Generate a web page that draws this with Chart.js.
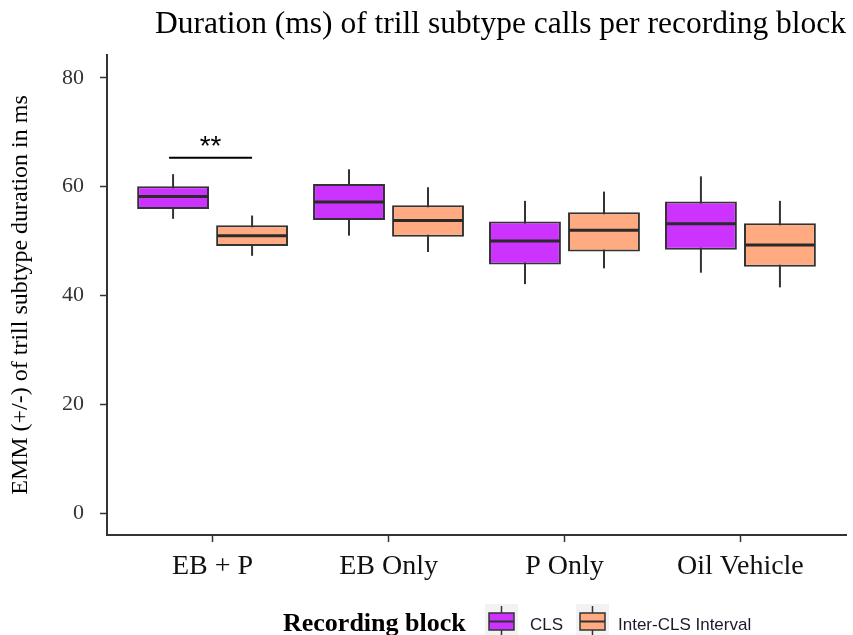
<!DOCTYPE html>
<html>
<head>
<meta charset="utf-8">
<script src="https://cdn.jsdelivr.net/npm/chart.js@4.4.1/dist/chart.umd.min.js"></script>
<style>
  html, body { margin: 0; padding: 0; background: #ffffff; }
  #wrap { width: 853px; height: 635px; }
</style>
</head>
<body>
<div id="wrap"><canvas id="c" width="853" height="635"></canvas></div>
<script>
// Recording blocks on the x axis
const categories = ['EB + P', 'EB Only', 'P Only', 'Oil Vehicle'];

// CLS series: whisker ends, quartiles and medians (ms)
const clsLow    = [54.1, 51.0, 42.1, 44.2];
const clsQ1     = [55.9, 53.9, 45.7, 48.4];
const clsMedian = [58.2, 57.2, 50.0, 53.2];
const clsQ3     = [60.1, 60.5, 53.6, 57.3];
const clsHigh   = [62.3, 63.2, 57.4, 61.9];

// Inter-CLS Interval series
const intLow    = [47.3, 48.0, 45.0, 41.5];
const intQ1     = [49.1, 50.8, 48.1, 45.3];
const intMedian = [51.0, 53.8, 52.0, 49.3];
const intQ3     = [52.9, 56.6, 55.3, 53.3];
const intHigh   = [54.7, 59.9, 59.1, 57.4];

// Y axis tick values
const yTicks = [0, 20, 40, 60, 80];

// Significance bracket over the first block
const sigLevel = 65.3;
const sigLabel = '**';

const seriesNames = ['CLS', 'Inter-CLS Interval'];
const fillColors = ['#cc33ff', '#ffaa80'];
const edgeColor = '#333333';

function boxData(lo, q1, med, q3, hi) {
  return categories.map((c, i) => ({ x: i, y: [q1[i], q3[i]], low: lo[i], median: med[i], high: hi[i] }));
}

// Whiskers behind the boxes, medians and the bracket on top
const boxplotParts = {
  id: 'boxplotParts',
  beforeDatasetsDraw(chart) {
    const ctx = chart.ctx, ys = chart.scales.y;
    ctx.save();
    ctx.strokeStyle = edgeColor;
    ctx.lineWidth = 2;
    chart.data.datasets.forEach((ds, di) => {
      const meta = chart.getDatasetMeta(di);
      meta.data.forEach((el, i) => {
        const d = ds.data[i];
        ctx.beginPath();
        ctx.moveTo(el.x, ys.getPixelForValue(d.low));
        ctx.lineTo(el.x, ys.getPixelForValue(d.high));
        ctx.stroke();
      });
    });
    ctx.restore();
  },
  afterDatasetsDraw(chart) {
    const ctx = chart.ctx, ys = chart.scales.y;
    ctx.save();
    ctx.strokeStyle = '#2a2a2a';
    ctx.lineWidth = 3;
    chart.data.datasets.forEach((ds, di) => {
      const meta = chart.getDatasetMeta(di);
      meta.data.forEach((el, i) => {
        const y = ys.getPixelForValue(ds.data[i].median);
        ctx.beginPath();
        ctx.moveTo(el.x - el.width / 2 + 1, y);
        ctx.lineTo(el.x + el.width / 2 - 1, y);
        ctx.stroke();
      });
    });
    // bracket between the two boxes of the first block
    const a = chart.getDatasetMeta(0).data[0], b = chart.getDatasetMeta(1).data[0];
    const yb = ys.getPixelForValue(sigLevel);
    ctx.strokeStyle = '#000000';
    ctx.lineWidth = 2;
    ctx.beginPath();
    ctx.moveTo(a.x - 4, yb);
    ctx.lineTo(b.x, yb);
    ctx.stroke();
    ctx.fillStyle = '#000000';
    ctx.font = '28px "Liberation Sans"';
    ctx.textAlign = 'center';
    ctx.textBaseline = 'alphabetic';
    ctx.fillText(sigLabel, (a.x + b.x) / 2 - 2, yb - 3);
    ctx.restore();
  },
  afterDraw(chart) {
    // legend row at the bottom
    const ctx = chart.ctx;
    ctx.save();
    ctx.fillStyle = '#000000';
    ctx.font = 'bold 26px "Liberation Serif"';
    ctx.textAlign = 'left';
    ctx.textBaseline = 'alphabetic';
    ctx.fillText('Recording block', 283, 631);
    const keys = [{ x: 485, tx: 530 }, { x: 576, tx: 618 }];
    keys.forEach((k, i) => {
      ctx.fillStyle = '#f2f2f2';
      ctx.fillRect(k.x, 604, 33, 31);
      const cx = k.x + 16.5;
      ctx.strokeStyle = edgeColor;
      ctx.lineWidth = 1.5;
      ctx.beginPath();
      ctx.moveTo(cx, 606); ctx.lineTo(cx, 635);
      ctx.stroke();
      ctx.fillStyle = fillColors[i];
      ctx.fillRect(k.x + 4, 613, 25, 17);
      ctx.strokeRect(k.x + 4, 613, 25, 17);
      ctx.lineWidth = 2;
      ctx.beginPath();
      ctx.moveTo(k.x + 4, 621.5); ctx.lineTo(k.x + 29, 621.5);
      ctx.stroke();
      ctx.fillStyle = '#1a1a2a';
      ctx.font = '17px "Liberation Sans"';
      ctx.fillText(seriesNames[i], k.tx, 630);
    });
    ctx.restore();
  }
};

const serif = '"Liberation Serif", "DejaVu Serif", serif';

new Chart(document.getElementById('c'), {
  type: 'bar',
  data: {
    datasets: [
      { label: seriesNames[0], data: boxData(clsLow, clsQ1, clsMedian, clsQ3, clsHigh),
        backgroundColor: fillColors[0], borderColor: edgeColor, borderWidth: 2, borderSkipped: false },
      { label: seriesNames[1], data: boxData(intLow, intQ1, intMedian, intQ3, intHigh),
        backgroundColor: fillColors[1], borderColor: edgeColor, borderWidth: 2, borderSkipped: false }
    ]
  },
  options: {
    responsive: false,
    animation: false,
    events: [],
    categoryPercentage: 0.898,
    barPercentage: 0.91,
    layout: { padding: { left: 0, right: 7, top: 0, bottom: 0 } },
    plugins: {
      legend: { display: false },
      tooltip: { enabled: false },
      title: {
        display: true,
        text: 'Duration (ms) of trill subtype calls per recording block',
        align: 'end',
        color: '#000000',
        font: { family: serif, size: 31.5, weight: 'normal' },
        padding: { top: 6, bottom: 11.2 }
      }
    },
    scales: {
      x: {
        type: 'linear',
        min: -0.6,
        max: 3.6,
        offset: false,
        afterBuildTicks(scale) { scale.ticks = categories.map((c, i) => ({ value: i })); },
        afterFit(scale) { scale.height = 100; },
        ticks: {
          autoSkip: false,
          maxRotation: 0,
          padding: 8,
          color: '#111111',
          font: { family: serif, size: 28 },
          callback: (v) => categories[v]
        },
        grid: { offset: false, drawOnChartArea: false, drawTicks: true, tickLength: 7, tickWidth: 1.5, color: edgeColor },
        border: { display: true, color: edgeColor, width: 2 }
      },
      y: {
        min: -4,
        max: 84.2,
        afterBuildTicks(scale) { scale.ticks = yTicks.map(v => ({ value: v })); },
        afterFit(scale) { scale.width = 107; },
        ticks: { padding: 16, color: '#333333', font: { family: serif, size: 22 } },
        grid: { drawOnChartArea: false, drawTicks: true, tickLength: 7, tickWidth: 1.5, color: edgeColor },
        border: { display: true, color: edgeColor, width: 2 },
        title: {
          display: true,
          text: 'EMM (+/-) of trill subtype duration in ms',
          color: '#000000',
          font: { family: serif, size: 24 },
          padding: { top: 6, bottom: 0 }
        }
      }
    }
  },
  plugins: [boxplotParts]
});
</script>
</body>
</html>
